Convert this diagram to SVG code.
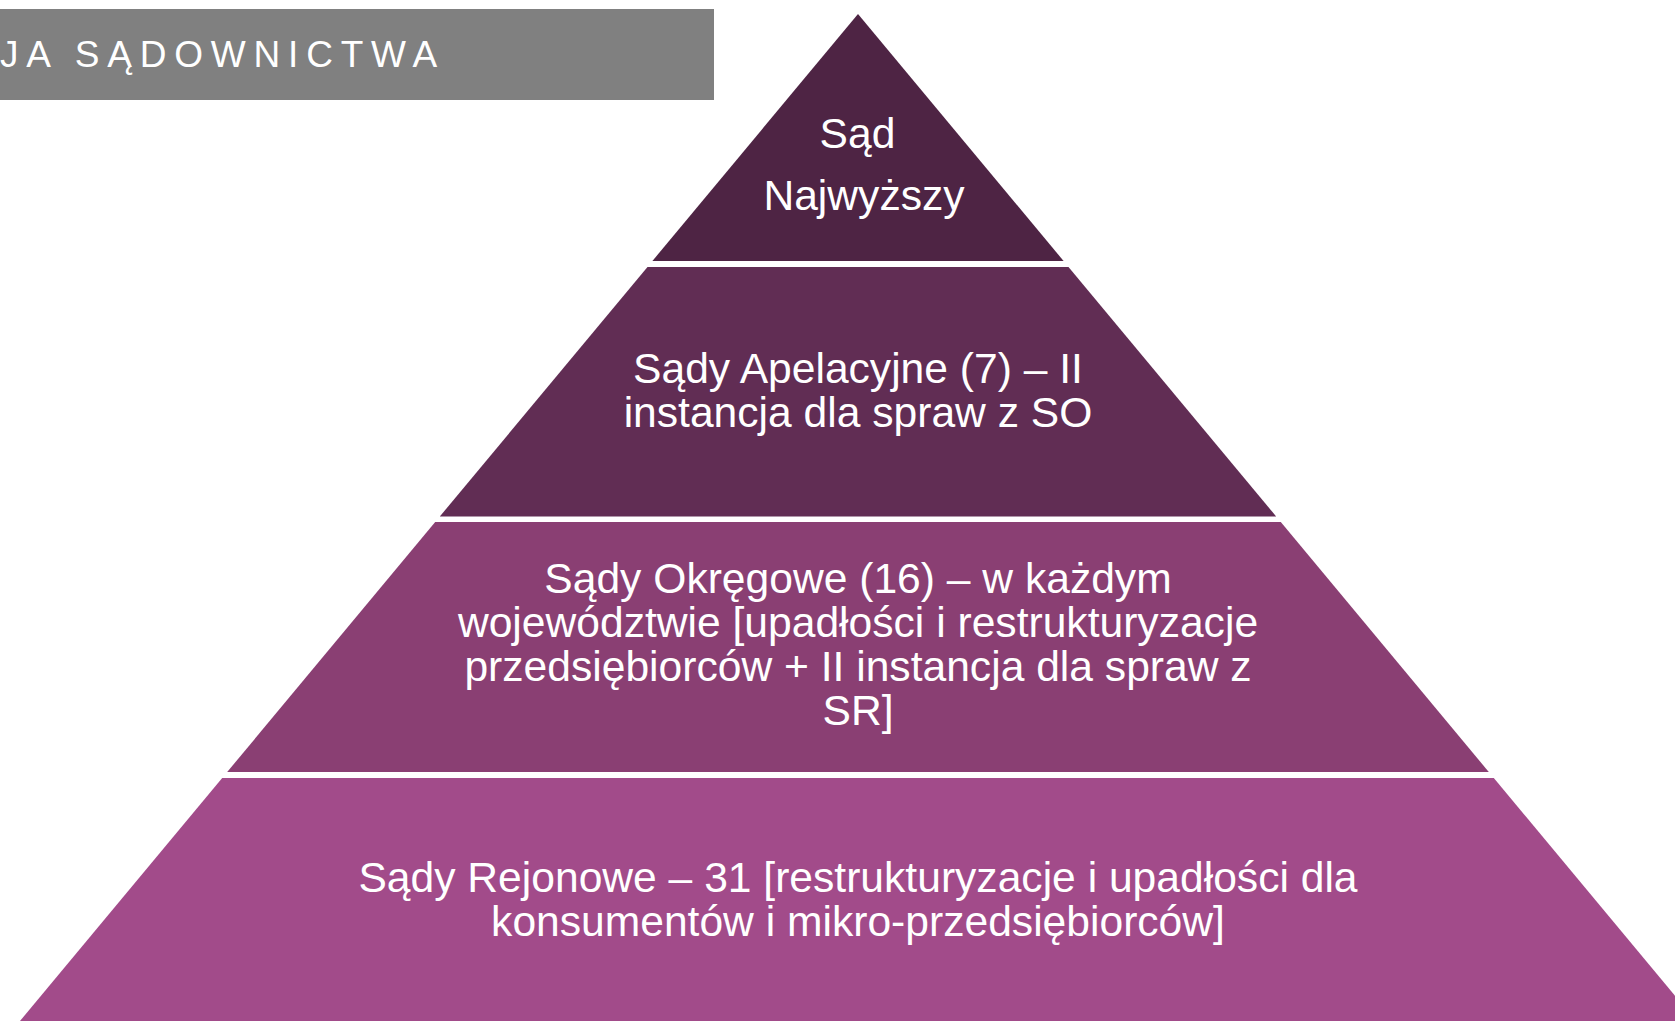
<svg xmlns="http://www.w3.org/2000/svg" width="1675" height="1021" viewBox="0 0 1675 1021">
<style>
.t{font-family:"Liberation Sans",Arial,sans-serif;font-size:42.6px;fill:#ffffff;text-anchor:middle}
.h{font-family:"Liberation Sans",Arial,sans-serif;font-size:37px;fill:#ffffff;letter-spacing:7.8px}
</style>
<rect width="1675" height="1021" fill="#ffffff"/>
<g id="header">
<rect x="0" y="9" width="714" height="91" fill="#808080"/>
<text class="h" x="0" y="67">JA SĄDOWNICTWA</text>
</g>
<g id="connectors"></g>
<g id="sad-najwyzszy">
<polygon points="858,14 1063.6,261 652.4,261" fill="#4E2444"/>
<text class="t" x="857.5" y="148">Sąd</text>
<text class="t" x="864" y="210">Najwyższy</text>
</g>
<g id="sady-apelacyjne">
<polygon points="647.5,267 1068.5,267 1276.2,516.5 439.8,516.5" fill="#612D54"/>
<text class="t" x="858" y="383">Sądy Apelacyjne (7) – II</text>
<text class="t" x="858" y="427">instancja dla spraw z SO</text>
</g>
<g id="sady-okregowe">
<polygon points="435.2,522 1280.8,522 1488.8,772 227.2,772" fill="#8A3F73"/>
<text class="t" x="858" y="593">Sądy Okręgowe (16) – w każdym</text>
<text class="t" x="858" y="637">województwie [upadłości i restrukturyzacje</text>
<text class="t" x="858" y="681">przedsiębiorców + II instancja dla spraw z</text>
<text class="t" x="858" y="725">SR]</text>
</g>
<g id="sady-rejonowe">
<polygon points="222.2,778 1493.8,778 1703.5,1030 12.5,1030" fill="#A24B8A"/>
<text class="t" x="858" y="892">Sądy Rejonowe – 31 [restrukturyzacje i upadłości dla</text>
<text class="t" x="858" y="936">konsumentów i mikro-przedsiębiorców]</text>
</g>
</svg>
